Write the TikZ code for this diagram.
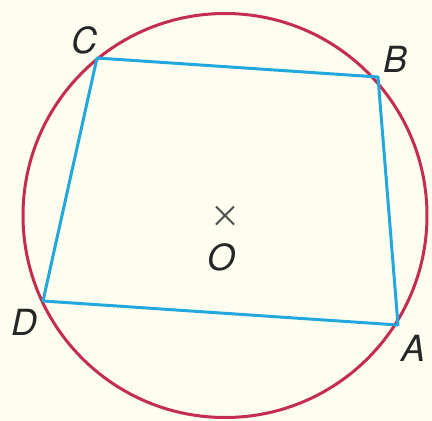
\documentclass[tikz,border=0pt]{standalone}
\usepackage{fontspec}
\setmainfont{TeX Gyre Heros}
\usetikzlibrary{calc}
\definecolor{bg}{RGB}{253,253,240}
\definecolor{circred}{RGB}{196,45,78}
\definecolor{quadblue}{RGB}{35,168,222}
\tikzset{
  lbl/.style={font=\fontsize{36}{36}\selectfont\itshape, text=black!85, inner sep=0pt},
  circ/.style={draw=circred, line width=3pt},
  quad/.style={draw=quadblue, line width=3pt, line join=round}
}
\begin{document}
\begin{tikzpicture}[x=1pt,y=-1pt]
\fill[bg] (0,0) rectangle (432,421);
\useasboundingbox (0,0) rectangle (432,421);
\coordinate (O) at (225,215.5);
\draw[circ] (O) circle[radius=202];
\coordinate (A) at (398,325);
\coordinate (B) at (378,77);
\coordinate (C) at (97,58);
\coordinate (D) at (43,301);
\draw[quad] (A) -- (B) -- (C) -- (D) -- cycle;
\draw[line width=2pt, black!70] ($(O)+(-9,-9)$) -- ($(O)+(9,9)$) ($(O)+(-9,9)$) -- ($(O)+(9,-9)$);
\node[lbl] (lA) at (414,348) {A};
\node[lbl] (lB) at (396,59) {B};
\node[lbl] (lC) at (84,40) {C};
\node[lbl] (lD) at (24,322) {D};
\node[lbl] (lO) at (222,257) {O};
\end{tikzpicture}
\end{document}
